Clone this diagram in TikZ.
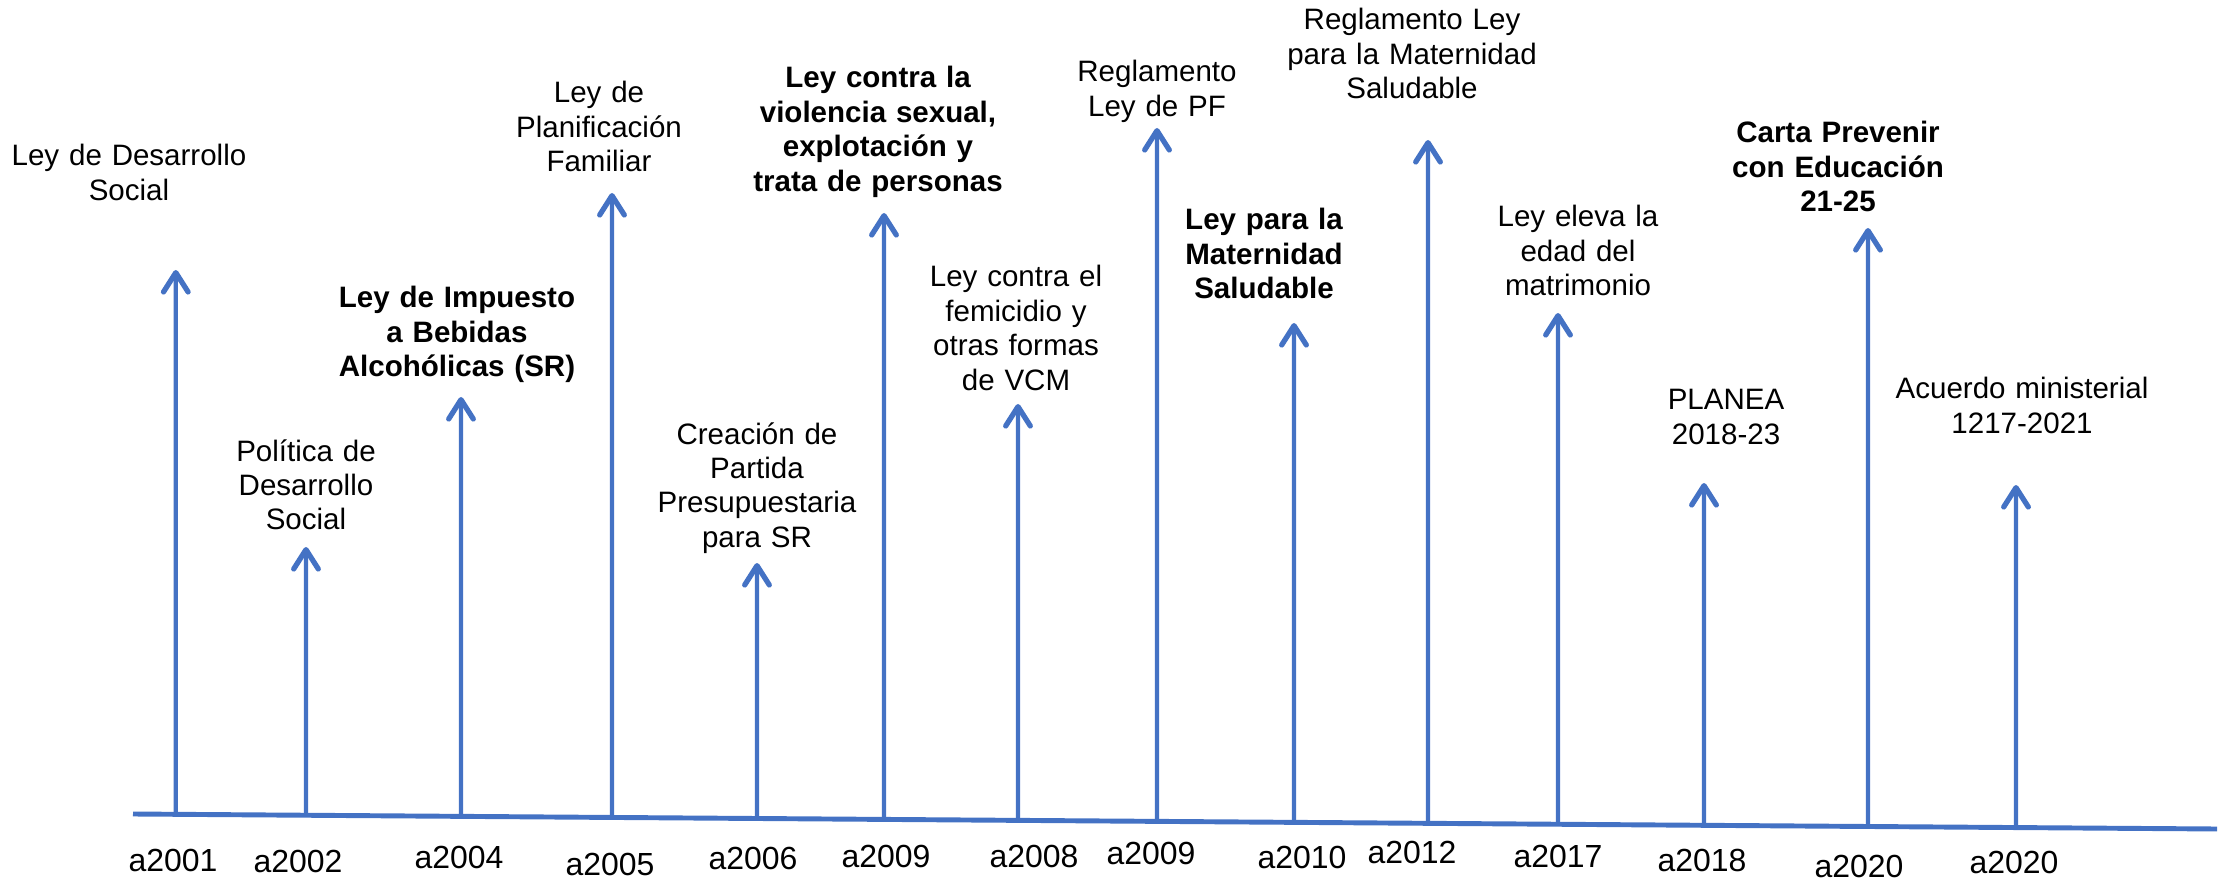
\documentclass[tikz,border=0pt]{standalone}
\usepackage{fontspec}
\setmainfont{Liberation Sans}
\usetikzlibrary{calc,arrows.meta}
\definecolor{lineblue}{HTML}{4472C4}

\begin{document}
\begin{tikzpicture}[x=1cm,y=-1cm,
    arr/.style={lineblue,line width=1.2pt,-{Straight Barb[length=5.5pt,width=7pt,line width=1.5pt,round]}},
    ev/.style={text width=3cm,align=center,anchor=base,inner sep=0pt,font=\fontsize{8.4}{9.8}\selectfont},
    evb/.style={ev,font=\fontsize{8.4}{9.8}\selectfont\bfseries},
    yr/.style={anchor=base,inner sep=0pt,font=\fontsize{9.1}{11}\selectfont}]
  \useasboundingbox (0,0) rectangle (22.23,8.81);
  % time line
  \coordinate (L) at (1.33,8.14);
  \coordinate (R) at (22.17,8.29);
  \draw[lineblue,line width=1.4pt] (L) -- (R);
  % one event: arrow, text, year
  \foreach \n/\x/\t/\lx/\ly/\s/\txt/\yx/\yy/\yr in{
      1/1.758/2.70/1.29/1.66/ev/{Ley de Desarrollo\\Social}/1.73/8.71/a2001,
      2/3.06/5.47/3.06/4.61/ev/{Política de\\Desarrollo\\Social}/2.98/8.72/a2002,
      3/4.61/3.97/4.57/3.08/evb/{Ley de Impuesto\\a Bebidas\\Alcohólicas (SR)}/4.59/8.68/a2004,
      4/6.12/1.93/5.99/1.03/ev/{Ley de\\Planificación\\Familiar}/6.10/8.75/a2005,
      5/7.57/5.63/7.57/4.44/ev/{Creación de\\Partida\\Presupuestaria\\para SR}/7.53/8.69/a2006,
      6/8.84/2.13/8.78/0.88/evb/{Ley contra la\\violencia sexual,\\explotación y\\trata de personas}/8.86/8.67/a2009,
      7/10.18/4.04/10.16/2.87/ev/{Ley contra el\\femicidio y\\otras formas\\de VCM}/10.34/8.67/a2008,
      8/11.57/1.28/11.57/0.82/ev/{Reglamento\\Ley de PF}/11.51/8.64/a2009,
      9/12.94/3.23/12.64/2.30/evb/{Ley para la\\Maternidad\\Saludable}/13.02/8.68/a2010,
      10/14.28/1.40/14.12/0.30/ev/{Reglamento Ley\\para la Maternidad\\Saludable}/14.12/8.63/a2012,
      11/15.58/3.13/15.78/2.27/ev/{Ley eleva la\\edad del\\matrimonio}/15.58/8.67/a2017,
      12/17.04/4.83/17.26/4.10/ev/{PLANEA\\2018-23}/17.02/8.71/a2018,
      13/18.68/2.28/18.38/1.43/evb/{Carta Prevenir\\con Educación\\21-25}/18.59/8.77/a2020,
      14/20.16/4.85/20.22/3.99/ev/{Acuerdo ministerial\\1217-2021}/20.14/8.73/a2020}{
    \coordinate (t\n) at (\x,\t);
    \coordinate (b\n) at ($(L)!{(\x-1.33)/(22.17-1.33)}!(R)$);
    \draw[arr] (b\n) -- (t\n);
    \node[\s] (l\n) at (\lx,\ly) {\txt};
    \node[yr] (y\n) at (\yx,\yy) {\yr};
  }
\end{tikzpicture}
\end{document}
